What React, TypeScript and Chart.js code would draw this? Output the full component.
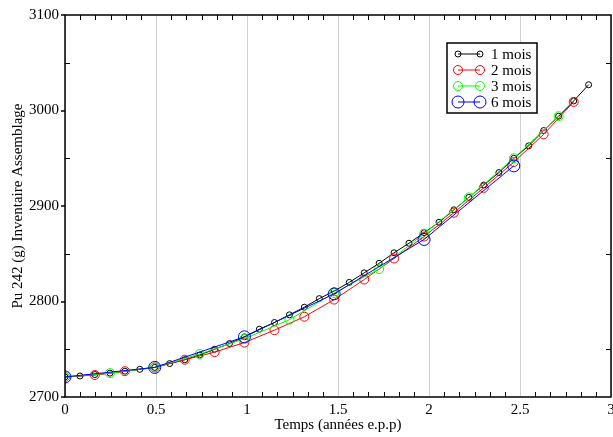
import React, { useEffect, useRef } from "react";
import { Chart, registerables } from "chart.js";

Chart.register(...registerables);

// Time (years e.p.p) and Pu 242 inventory (g)
const time1 = [0, 0.082, 0.164, 0.247, 0.329, 0.411, 0.493, 0.575, 0.658, 0.740, 0.822, 0.904, 0.986, 1.068, 1.151, 1.233, 1.315, 1.397, 1.479, 1.562, 1.644, 1.726, 1.808, 1.890, 1.973, 2.055, 2.137, 2.219, 2.301, 2.384, 2.466, 2.548, 2.630, 2.712, 2.795, 2.877];
const mois1 = [2721, 2722, 2723.5, 2725, 2727, 2729, 2731, 2735, 2739, 2744, 2750, 2756, 2763, 2771, 2778, 2786, 2794, 2803, 2811, 2820, 2830, 2840, 2851, 2861, 2872, 2883, 2896, 2909, 2922, 2935, 2950, 2963, 2979, 2994, 3010, 3027];

const time2 = [0, 0.164, 0.329, 0.493, 0.658, 0.822, 0.986, 1.151, 1.315, 1.479, 1.644, 1.808, 1.973, 2.137, 2.301, 2.466, 2.630, 2.795];
const mois2 = [2721, 2723, 2727, 2731, 2739, 2747, 2757, 2770, 2784, 2802, 2823, 2845, 2868, 2893, 2919, 2946, 2975, 3009];

const time3 = [0, 0.247, 0.493, 0.740, 0.986, 1.233, 1.479, 1.726, 1.973, 2.219, 2.466, 2.712];
const mois3 = [2721, 2725, 2731, 2745, 2761, 2781, 2809, 2834, 2871, 2909, 2950, 2994];

const time6 = [0, 0.493, 0.986, 1.479, 1.973, 2.466];
const mois6 = [2721, 2731, 2763, 2808, 2865, 2942];

const seriesLabels = ["1 mois", "2 mois", "3 mois", "6 mois"];
const xTitle = "Temps (années e.p.p)";
const yTitle = "Pu 242 (g) Inventaire Assemblage";

const FONT = "'Liberation Serif', 'Times New Roman', serif";

const toPts = (xs: number[], ys: number[]) => xs.map((x, i) => ({ x, y: ys[i] }));

const framePlugin = {
  id: "frameTicks",
  afterDatasetsDraw(chart: any) {
    const { ctx, chartArea } = chart;
    const { left, right, top, bottom } = chartArea;
    const xs = chart.scales.x;
    const ys = chart.scales.y;
    ctx.save();
    ctx.strokeStyle = "#000";
    ctx.lineWidth = 1;
    for (let k = 1; k < 36; k++) {
      if (k % 6 === 0) continue;
      const px = Math.round(xs.getPixelForValue(k / 12)) + 0.5;
      ctx.beginPath();
      ctx.moveTo(px, bottom);
      ctx.lineTo(px, bottom - 5);
      ctx.moveTo(px, top);
      ctx.lineTo(px, top + 5);
      ctx.stroke();
    }
    for (let v = 2750; v < 3100; v += 100) {
      const py = Math.round(ys.getPixelForValue(v)) + 0.5;
      ctx.beginPath();
      ctx.moveTo(left, py);
      ctx.lineTo(left + 5, py);
      ctx.moveTo(right, py);
      ctx.lineTo(right - 5, py);
      ctx.stroke();
    }
    ctx.lineWidth = 1.5;
    for (let v = 2700; v <= 3100; v += 100) {
      const py = Math.round(ys.getPixelForValue(v));
      ctx.beginPath();
      ctx.moveTo(left - 4, py);
      ctx.lineTo(left, py);
      ctx.stroke();
    }
    ctx.strokeRect(left, top, right - left, bottom - top);
    ctx.restore();
  },
  afterDraw(chart: any) {
    const { ctx } = chart;
    const ds = chart.data.datasets;
    const bx = 447, by = 43, bw = 90, bh = 70;
    ctx.save();
    ctx.fillStyle = "#fff";
    ctx.fillRect(bx, by, bw, bh);
    ctx.strokeStyle = "#000";
    ctx.lineWidth = 1.5;
    ctx.strokeRect(bx, by, bw, bh);
    ds.forEach((d: any, i: number) => {
      const cy = by + 11 + i * 16;
      const x1 = 458, x2 = 480;
      ctx.strokeStyle = d.borderColor;
      ctx.lineWidth = 1;
      ctx.beginPath();
      ctx.moveTo(x1, cy);
      ctx.lineTo(x2, cy);
      ctx.stroke();
      [x1, x2].forEach((cx) => {
        ctx.beginPath();
        ctx.arc(cx, cy, d.pointRadius, 0, Math.PI * 2);
        ctx.stroke();
      });
      ctx.fillStyle = "#000";
      ctx.font = `15px ${FONT}`;
      ctx.textBaseline = "middle";
      ctx.textAlign = "left";
      ctx.fillText(d.label, 491, cy + 1);
    });
    ctx.restore();
  },
};

export default function App() {
  const ref = useRef<HTMLCanvasElement | null>(null);
  useEffect(() => {
    document.body.style.margin = "0";
    const mk = (label: string, xs: number[], ys: number[], color: string, r: number, order: number) => ({
      label,
      data: toPts(xs, ys),
      borderColor: color,
      backgroundColor: color,
      pointBorderColor: color,
      pointBackgroundColor: "rgba(0,0,0,0)",
      pointRadius: r,
      pointBorderWidth: 1,
      borderWidth: 1,
      showLine: true,
      tension: 0,
      order,
    });
    const chart = new Chart(ref.current as HTMLCanvasElement, {
      type: "scatter",
      data: {
        datasets: [
          mk(seriesLabels[0], time1, mois1, "#000000", 3, 3),
          mk(seriesLabels[1], time2, mois2, "#ff0000", 4.5, 2),
          mk(seriesLabels[2], time3, mois3, "#00ff00", 4.5, 1),
          mk(seriesLabels[3], time6, mois6, "#0000ff", 6, 0),
        ],
      },
      options: {
        animation: false,
        responsive: true,
        maintainAspectRatio: false,
        layout: { autoPadding: false, padding: { top: 15, right: 2, left: 0, bottom: 0 } },
        plugins: { legend: { display: false }, tooltip: { enabled: false } },
        scales: {
          x: {
            type: "linear",
            min: 0,
            max: 3,
            ticks: { stepSize: 0.5, color: "#000", font: { family: FONT, size: 15 }, padding: 4, maxRotation: 0, callback: (v: any) => String(v) },
            grid: { color: "#d0d0d0", lineWidth: 1, drawTicks: false },
            border: { display: false },
            title: { display: true, text: xTitle, color: "#000", font: { family: FONT, size: 15 }, padding: { top: 0, bottom: 3 } },
            afterFit: (s: any) => {
              s.height = 40;
              s.paddingLeft = 0;
              s.paddingRight = 0;
            },
          },
          y: {
            type: "linear",
            min: 2700,
            max: 3100,
            ticks: { stepSize: 100, color: "#000", font: { family: FONT, size: 15 }, padding: 6, callback: (v: any) => String(v) },
            grid: { display: false, drawTicks: false },
            border: { display: false },
            title: { display: true, text: yTitle, color: "#000", font: { family: FONT, size: 15 }, padding: { top: 9, bottom: 4 } },
            afterFit: (s: any) => {
              s.width = 65;
            },
          },
        },
      },
      plugins: [framePlugin],
    } as any);
    return () => chart.destroy();
  }, []);
  return (
    <div style={{ position: "relative", width: 613, height: 437 }}>
      <canvas ref={ref} />
    </div>
  );
}
